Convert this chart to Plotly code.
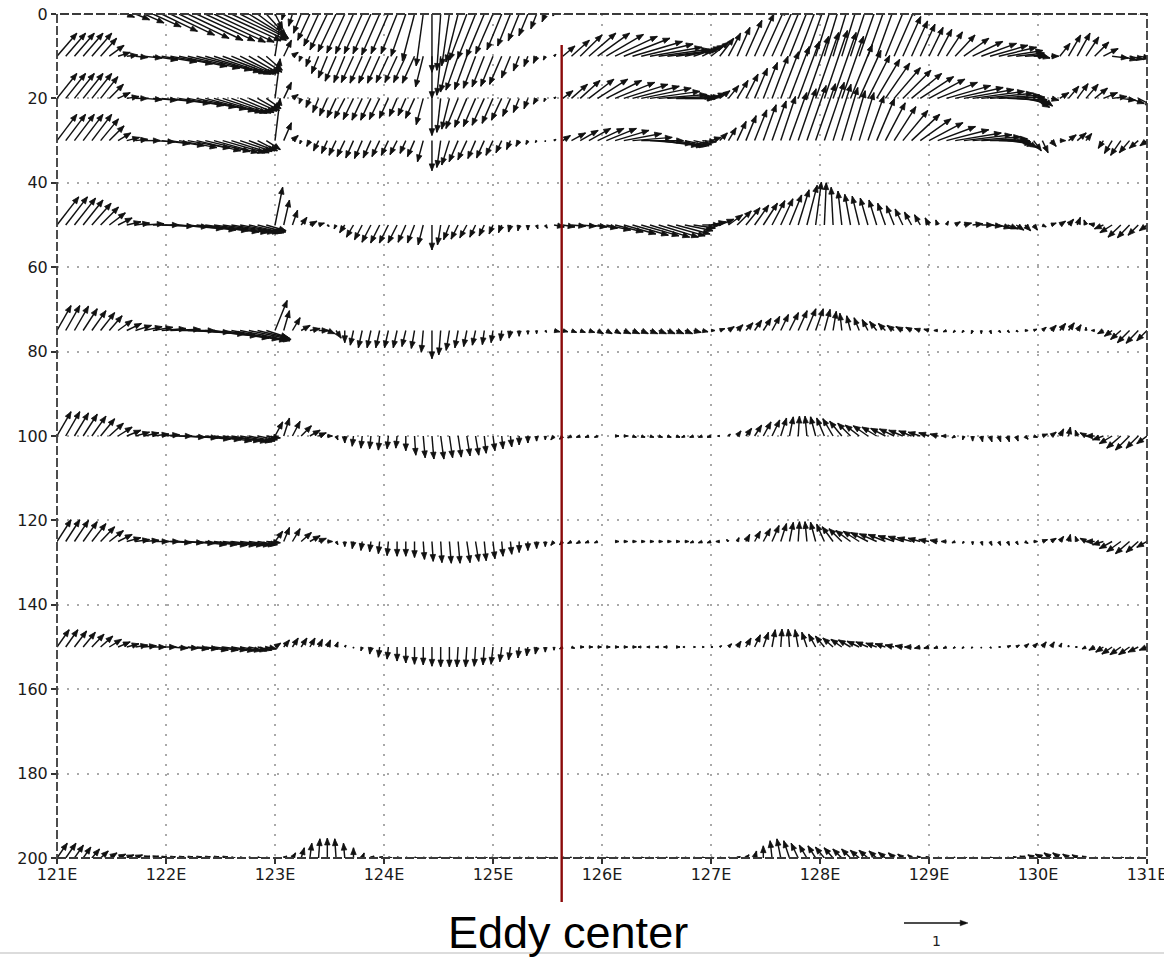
import numpy as np
import plotly.graph_objects as go

# ---------------- data ----------------
LON = np.round(np.linspace(121.0, 131.0, 126), 2)          # grid longitudes (0.08 deg)
LEVELS = [0, 10, 20, 30, 50, 75, 100, 125, 150, 200]       # depth levels (m)
X_TICKS = [121, 122, 123, 124, 125, 126, 127, 128, 129, 130, 131]
X_TICKTEXT = ["121E", "122E", "123E", "124E", "125E", "126E", "127E", "128E", "129E", "130E", "131E"]
Y_TICKS = [0, 20, 40, 60, 80, 100, 120, 140, 160, 180, 200]
EDDY_CENTER_LON = 125.63
REF_VECTOR = 1

U_0 = [0.31,0.31,0.31,0.31,0.31,0.28,0.23,0.19,
       0.12,0.22,0.31,0.44,0.56,0.69,0.78,0.86,0.91,0.94,0.94,0.91,0.86,0.75,0.62,0.47,0.31,0.12,
       -0.03,-0.06,-0.12,-0.19,-0.23,-0.27,-0.28,-0.28,-0.28,-0.28,-0.28,-0.28,-0.27,-0.25,-0.23,-0.19,-0.11,0,-0.06,-0.12,-0.19,-0.27,-0.28,-0.28,-0.27,-0.23,-0.2,-0.17,-0.14,-0.09,-0.05,-0.02,
       0.16,0.23,0.31,0.39,0.47,0.55,0.62,0.7,0.75,0.78,0.78,0.75,0.7,0.62,0.55,0.47,0.39,0.34,
       0.31,0.31,0.34,0.38,0.39,0.41,0.41,0.41,0.41,0.41,0.41,0.41,0.41,0.41,0.41,0.39,0.39,0.38,0.38,0.36,0.34,0.33,0.31,0.31,0.31,
       0.31,0.34,0.39,0.47,0.55,0.59,0.59,0.55,0.47,0.39,0.31,0.23,
       0.19,0.19,0.22,0.23,0.23,0.23,0.23,0.23,0.23,0.23,0.22,0.19,0.16]
W_0 = [0.34,0.34,0.34,0.34,0.34,0.28,0.19,0.09,
       -0.05,-0.09,-0.14,-0.2,-0.27,-0.33,-0.38,-0.41,-0.42,-0.44,-0.44,-0.42,-0.41,-0.39,-0.38,-0.36,-0.34,-0.23,
       -0.09,-0.19,-0.3,-0.41,-0.5,-0.56,-0.59,-0.61,-0.62,-0.62,-0.62,-0.64,-0.62,-0.62,-0.66,-0.73,-0.81,-0.91,-0.88,-0.81,-0.75,-0.72,-0.7,-0.67,-0.62,-0.56,-0.5,-0.42,-0.34,-0.23,-0.12,-0.03,
       0.08,0.19,0.28,0.34,0.38,0.39,0.38,0.34,0.31,0.28,0.25,0.22,0.19,0.17,0.17,0.19,0.22,0.25,
       0.31,0.41,0.5,0.59,0.69,0.78,0.88,0.97,1.06,1.12,1.19,1.25,1.28,1.28,1.25,1.19,1.12,1.06,0.97,0.88,0.78,0.7,0.62,0.56,0.5,
       0.47,0.44,0.41,0.38,0.34,0.31,0.28,0.25,0.22,0.19,0.16,0.16,
       0.19,0.28,0.41,0.5,0.53,0.5,0.41,0.31,0.22,0.16,0.12,0.12,0.12]

U_10 = [0.31,0.31,0.31,0.31,0.31,0.25,0.23,0.19,0.17,
        0.19,0.28,0.39,0.55,0.66,0.75,0.81,0.86,0.86,0.81,0.75,0.66,0.56,0.47,0.38,0.25,
        0.08,0.12,0.09,
        -0.03,-0.06,-0.11,-0.14,-0.17,-0.17,-0.19,-0.19,-0.19,-0.19,-0.19,-0.19,-0.19,-0.19,-0.12,0,-0.06,-0.14,-0.19,-0.19,-0.19,-0.19,-0.19,-0.19,-0.14,-0.09,-0.06,-0.05,-0.03,
        0.03,0.19,0.28,0.34,0.42,0.5,0.58,0.66,0.72,0.78,0.81,0.81,0.78,0.7,0.62,0.52,0.42,0.34,0.28,0.22,0.19,0.2,0.25,0.3,
        0.34,0.38,0.39,0.41,0.41,0.41,0.39,0.38,0.38,0.38,0.38,0.38,0.36,0.34,0.34,0.33,0.28,0.25,0.23,0.22,0.22,0.25,0.31,0.39,0.47,0.55,0.59,0.59,0.55,0.44,0.31,0.19,0.12,0.12,0.16,0.19,0.2,0.2,0.22,0.23,0.25,0.25,0.22,0.19,0.16]
W_10 = [0.36,0.36,0.36,0.36,0.36,0.28,0.17,0.06,0.02,
        -0.02,-0.03,-0.06,-0.09,-0.12,-0.16,-0.19,-0.22,-0.25,-0.27,-0.28,-0.28,-0.28,-0.27,-0.25,-0.22,
        0.52,0.25,0.06,
        -0.08,-0.16,-0.27,-0.34,-0.39,-0.41,-0.41,-0.42,-0.42,-0.42,-0.41,-0.41,-0.41,-0.42,-0.48,-0.66,-0.61,-0.56,-0.53,-0.52,-0.5,-0.48,-0.47,-0.44,-0.34,-0.23,-0.16,-0.11,-0.06,
        0.03,0.16,0.25,0.33,0.36,0.36,0.34,0.31,0.28,0.23,0.19,0.14,0.11,0.09,0.09,0.11,0.14,0.17,0.22,0.28,0.36,0.45,0.56,0.66,
        0.75,0.84,0.94,1.03,1.09,1.16,1.22,1.25,1.25,1.22,1.16,1.09,1.02,0.94,0.84,0.75,0.62,0.55,0.5,0.45,0.42,0.38,0.33,0.28,0.23,0.2,0.17,0.14,0.09,0.05,0.02,0,-0.03,0,0.2,0.33,0.36,0.3,0.22,0.12,-0.03,-0.06,-0.05,-0.03,0]

U_20 = [0.31,0.31,0.31,0.31,0.31,0.27,0.22,0.19,0.19,
        0.19,0.28,0.38,0.5,0.62,0.7,0.75,0.78,0.78,0.75,0.69,0.62,0.53,0.44,0.34,0.23,
        0.08,0.12,0.09,
        -0.03,-0.06,-0.09,-0.12,-0.14,-0.16,-0.16,-0.16,-0.16,-0.16,-0.14,-0.12,-0.12,-0.14,-0.11,0,-0.06,-0.12,-0.19,-0.19,-0.19,-0.19,-0.17,-0.16,-0.12,-0.09,-0.06,-0.05,-0.02,
        0.03,0.16,0.25,0.31,0.39,0.47,0.55,0.62,0.69,0.73,0.78,0.78,0.75,0.69,0.59,0.47,0.38,0.28,0.22,0.16,0.16,0.17,0.19,0.2,
        0.22,0.25,0.28,0.31,0.33,0.34,0.36,0.36,0.36,0.34,0.34,0.34,0.34,0.36,0.38,0.41,0.44,0.47,0.52,0.56,0.62,0.69,0.75,0.78,0.81,0.81,0.78,0.72,0.62,0.5,0.38,0.25,0.16,0.12,0.14,0.16,0.17,0.19,0.2,0.22,0.23,0.23,0.23,0.22,0.19]
W_20 = [0.39,0.39,0.39,0.39,0.39,0.34,0.22,0.09,0.03,
        0,-0.02,-0.03,-0.05,-0.08,-0.11,-0.14,-0.17,-0.2,-0.22,-0.23,-0.23,-0.22,-0.2,-0.19,-0.16,
        0.62,0.25,0.06,
        -0.08,-0.14,-0.22,-0.27,-0.3,-0.31,-0.33,-0.34,-0.34,-0.33,-0.31,-0.28,-0.27,-0.31,-0.41,-0.58,-0.53,-0.48,-0.47,-0.45,-0.44,-0.42,-0.39,-0.34,-0.28,-0.22,-0.16,-0.09,-0.05,
        0.02,0.12,0.22,0.28,0.3,0.3,0.28,0.25,0.22,0.19,0.16,0.11,0.06,0.03,0,0,0.02,0.03,0.08,0.12,0.2,0.28,0.38,0.47,
        0.56,0.66,0.73,0.81,0.89,0.97,1.03,1.06,1.03,0.97,0.84,0.75,0.67,0.61,0.55,0.48,0.44,0.39,0.34,0.3,0.25,0.2,0.17,0.14,0.11,0.08,0.05,0.02,-0.02,-0.05,-0.09,-0.14,-0.12,-0.03,0.09,0.19,0.23,0.22,0.16,0.09,0.03,-0.03,-0.08,-0.11,-0.12]

U_30 = [0.31,0.31,0.31,0.31,0.31,0.28,0.23,0.2,0.2,
        0.19,0.25,0.34,0.44,0.53,0.59,0.66,0.69,0.7,0.69,0.66,0.59,0.5,0.41,0.31,0.22,
        0.08,0.12,0.09,
        -0.02,-0.05,-0.08,-0.09,-0.11,-0.12,-0.12,-0.12,-0.12,-0.12,-0.11,-0.11,-0.09,-0.11,-0.09,0,-0.06,-0.12,-0.14,-0.14,-0.12,-0.12,-0.11,-0.09,-0.06,-0.05,-0.03,-0.02,0,
        0.03,0.12,0.22,0.28,0.34,0.41,0.47,0.53,0.59,0.62,0.66,0.66,0.62,0.56,0.47,0.38,0.28,0.22,0.16,0.12,0.12,0.14,0.16,0.19,
        0.2,0.22,0.23,0.27,0.28,0.3,0.31,0.31,0.28,0.25,0.23,0.23,0.25,0.28,0.31,0.34,0.39,0.44,0.48,0.53,0.59,0.66,0.72,0.75,0.75,0.72,0.62,0.5,0.38,0.28,0.19,0.12,0.09,0.08,0.09,0.12,0.14,0.09,0,-0.08,-0.12,-0.16,-0.16,-0.14,-0.11]
W_30 = [0.41,0.41,0.41,0.41,0.41,0.34,0.23,0.12,0.05,
        0.02,0,-0.02,-0.05,-0.08,-0.11,-0.12,-0.16,-0.17,-0.19,-0.19,-0.19,-0.17,-0.16,-0.16,-0.14,
        0.66,0.28,0.08,
        -0.05,-0.09,-0.16,-0.2,-0.23,-0.25,-0.27,-0.28,-0.27,-0.25,-0.23,-0.22,-0.2,-0.25,-0.33,-0.47,-0.42,-0.38,-0.33,-0.3,-0.28,-0.27,-0.23,-0.19,-0.14,-0.09,-0.06,-0.03,-0.02,
        0.02,0.08,0.12,0.16,0.19,0.19,0.19,0.16,0.11,0.05,0,-0.05,-0.08,-0.09,-0.09,-0.08,-0.06,-0.02,0.05,0.12,0.2,0.3,0.39,0.48,
        0.56,0.62,0.69,0.75,0.81,0.86,0.89,0.91,0.88,0.83,0.78,0.75,0.7,0.66,0.59,0.53,0.47,0.41,0.34,0.28,0.22,0.17,0.12,0.09,0.06,0.03,0,-0.02,-0.05,-0.08,-0.11,-0.16,-0.19,-0.09,0,0.09,0.12,0.11,0,-0.12,-0.2,-0.23,-0.19,-0.12,-0.08]

U_50 = [0.34,0.34,0.33,0.31,0.3,0.28,0.25,0.22,0.22,
        0.22,0.31,0.41,0.5,0.59,0.69,0.75,0.81,0.84,0.84,0.81,0.75,0.66,0.55,0.44,0.31,
        0.12,0.09,0.08,0.09,0.11,0.09,0.03,-0.03,-0.08,-0.11,-0.12,-0.14,-0.14,-0.14,-0.14,-0.12,-0.11,-0.08,0,-0.05,-0.09,-0.11,-0.11,-0.09,-0.08,-0.06,-0.05,-0.03,-0.02,0,0.02,0.03,
        0.16,0.19,0.22,0.25,0.28,0.31,0.38,0.44,0.5,0.56,0.59,0.62,0.62,0.59,0.53,0.44,0.34,0.28,0.23,0.22,0.22,0.22,0.22,0.22,
        0.22,0.2,0.19,0.19,0.17,0.16,0.09,0.03,-0.03,-0.06,-0.09,-0.11,-0.12,-0.12,-0.12,-0.12,-0.12,-0.11,-0.09,-0.06,-0.03,0.03,0.08,0.12,0.16,0.19,0.19,0.19,0.16,0.12,0.09,0.06,0.06,0.08,0.09,0.08,0.05,-0.03,-0.09,-0.14,-0.19,-0.2,-0.19,-0.16,-0.12]
W_50 = [0.44,0.44,0.42,0.39,0.34,0.28,0.19,0.11,0.05,
        0.03,0.02,0,-0.02,-0.03,-0.06,-0.08,-0.09,-0.11,-0.12,-0.12,-0.12,-0.12,-0.12,-0.11,-0.09,
        0.59,0.39,0.23,0.12,0.06,0.03,-0.02,-0.06,-0.12,-0.19,-0.23,-0.27,-0.28,-0.28,-0.28,-0.27,-0.28,-0.31,-0.39,-0.31,-0.23,-0.22,-0.2,-0.19,-0.17,-0.14,-0.12,-0.11,-0.09,-0.08,-0.06,-0.05,
        -0.03,-0.03,-0.02,-0.02,-0.03,-0.05,-0.08,-0.11,-0.14,-0.16,-0.17,-0.19,-0.19,-0.17,-0.14,-0.09,-0.05,0,0.05,0.09,0.16,0.22,0.27,0.31,
        0.34,0.38,0.41,0.47,0.55,0.62,0.67,0.66,0.59,0.53,0.48,0.45,0.42,0.39,0.34,0.3,0.25,0.2,0.16,0.11,0.08,0.06,0.05,0.03,0.02,0,-0.02,-0.05,-0.06,-0.08,-0.09,-0.08,-0.03,0.03,0.06,0.09,0.12,0.08,0.02,-0.06,-0.12,-0.19,-0.2,-0.16,-0.09]

U_75 = [0.22,0.22,0.22,0.22,0.22,0.22,0.2,0.22,0.23,0.25,0.28,0.31,
        0.38,0.47,0.56,0.66,0.75,0.81,0.86,0.88,0.86,0.78,0.66,0.5,0.34,
        0.19,0.09,0.12,0.14,0.16,0.16,0.12,0.08,0,-0.05,-0.06,-0.06,-0.06,-0.06,-0.06,-0.06,-0.05,-0.03,0,-0.03,-0.05,-0.05,-0.05,-0.05,-0.03,-0.03,-0.02,-0.02,0,0,0,0.02,
        0.09,0.08,0.08,0.08,0.09,0.09,0.09,0.09,0.11,0.11,0.11,0.12,0.12,0.12,0.12,0.12,0.12,0.09,0.06,0.08,0.09,0.09,0.11,0.11,
        0.12,0.12,0.12,0.14,0.14,0.14,0.12,0.09,0.05,-0.03,-0.06,-0.08,-0.09,-0.11,-0.11,-0.11,-0.11,-0.09,-0.09,-0.08,-0.06,-0.05,-0.03,-0.03,-0.02,0,0.02,0.03,0.03,0.03,0.05,0.05,0.06,0.08,0.09,0.09,0.06,0,-0.05,-0.09,-0.12,-0.16,-0.19,-0.19,-0.16]
W_75 = [0.39,0.39,0.38,0.34,0.31,0.28,0.23,0.16,0.11,0.08,0.06,0.05,
        0.03,0.02,0,-0.03,-0.06,-0.09,-0.12,-0.14,-0.16,-0.16,-0.14,-0.12,-0.11,
        0.47,0.31,0.2,0.08,0.03,0,-0.05,-0.12,-0.19,-0.23,-0.27,-0.27,-0.27,-0.27,-0.27,-0.25,-0.28,-0.34,-0.44,-0.38,-0.31,-0.27,-0.25,-0.23,-0.22,-0.19,-0.16,-0.12,-0.09,-0.06,-0.05,-0.03,
        -0.02,-0.02,-0.03,-0.03,-0.03,-0.05,-0.05,-0.05,-0.05,-0.05,-0.05,-0.05,-0.05,-0.05,-0.05,-0.05,-0.03,-0.02,0,0.03,0.06,0.09,0.12,0.16,
        0.19,0.22,0.25,0.28,0.31,0.34,0.34,0.33,0.3,0.27,0.23,0.2,0.17,0.14,0.11,0.08,0.06,0.05,0.03,0.02,0,-0.02,-0.03,-0.03,-0.05,-0.05,-0.05,-0.03,-0.03,-0.02,0,0.02,0.05,0.08,0.11,0.12,0.09,0.05,0,-0.05,-0.09,-0.14,-0.19,-0.2,-0.16]

U_100 = [0.22,0.22,0.22,0.22,0.22,0.22,0.22,0.22,0.22,0.22,0.23,0.25,
         0.28,0.34,0.41,0.47,0.53,0.56,0.59,0.59,0.56,0.5,0.41,0.31,0.22,
         0.12,0.09,0.12,0.16,0.16,0.12,0.08,0.03,0,-0.02,-0.02,-0.02,-0.02,-0.02,-0.02,0,0.02,0.03,0.03,0.05,0.05,0.05,0.05,0.05,0.03,0.03,0.02,0.02,0,0,0,0,
         -0.05,-0.05,-0.06,-0.06,-0.06,-0.05,0,0.06,0.06,0.06,0.06,0.06,0.06,0.06,0.06,-0.05,-0.06,-0.06,-0.06,-0.03,0.03,0.06,0.09,0.11,
         0.12,0.12,0.09,0.06,0.02,-0.03,-0.08,-0.12,-0.16,-0.19,-0.2,-0.22,-0.23,-0.23,-0.23,-0.23,-0.22,-0.2,-0.19,-0.16,-0.12,-0.08,-0.05,-0.02,0,0.02,0.03,0.03,0.03,0.03,0.05,0.06,0.08,0.08,0.06,0.03,-0.03,-0.09,-0.14,-0.17,-0.2,-0.22,-0.22,-0.19,-0.16]
W_100 = [0.38,0.38,0.36,0.34,0.31,0.27,0.2,0.14,0.09,0.06,0.05,0.03,
         0.02,0,-0.02,-0.03,-0.05,-0.06,-0.08,-0.08,-0.09,-0.09,-0.08,-0.06,-0.03,
         0.22,0.28,0.23,0.16,0.09,0.05,0,-0.06,-0.11,-0.16,-0.19,-0.2,-0.22,-0.2,-0.19,-0.23,-0.3,-0.34,-0.36,-0.36,-0.34,-0.33,-0.31,-0.3,-0.27,-0.23,-0.2,-0.17,-0.14,-0.11,-0.08,-0.06,
         -0.06,-0.05,-0.03,-0.02,-0.02,-0.02,0,0,0,-0.02,-0.02,-0.02,-0.02,-0.02,-0.02,-0.02,-0.02,-0.02,-0.02,0,0.03,0.08,0.12,0.17,
         0.22,0.25,0.28,0.3,0.31,0.31,0.3,0.28,0.27,0.23,0.2,0.17,0.16,0.14,0.12,0.11,0.09,0.08,0.06,0.05,0.03,0,-0.03,-0.06,-0.08,-0.09,-0.09,-0.09,-0.09,-0.08,-0.05,-0.02,0.03,0.06,0.11,0.14,0.09,0.05,0,-0.06,-0.12,-0.19,-0.22,-0.19,-0.12]

U_125 = [0.22,0.22,0.22,0.22,0.22,0.22,0.22,0.22,0.22,0.22,0.23,0.25,
         0.28,0.33,0.38,0.42,0.47,0.5,0.52,0.52,0.5,0.47,0.41,0.31,0.22,
         0.12,0.09,0.12,0.16,0.16,0.12,0.08,0.03,0,-0.02,-0.02,-0.02,-0.02,-0.02,0,0,0,0.02,0.02,0.02,0.03,0.03,0.05,0.05,0.03,0.03,0.02,0.02,0,0,0,0,
         -0.05,-0.05,-0.06,-0.06,-0.06,-0.05,0,0.06,0.06,0.06,0.06,0.06,0.06,0.06,0.06,0.06,-0.05,-0.06,-0.06,-0.06,-0.03,0.03,0.06,0.09,
         0.11,0.11,0.09,0.06,0.02,-0.03,-0.08,-0.12,-0.17,-0.2,-0.23,-0.25,-0.27,-0.27,-0.27,-0.25,-0.23,-0.22,-0.19,-0.16,-0.12,-0.08,-0.05,-0.02,0,0.02,0.03,0.03,0.03,0.03,0.05,0.06,0.08,0.08,0.06,0.03,-0.03,-0.09,-0.14,-0.17,-0.2,-0.22,-0.22,-0.19,-0.16]
W_125 = [0.34,0.34,0.33,0.31,0.28,0.23,0.17,0.11,0.06,0.03,0.02,0,
         0,-0.02,-0.02,-0.03,-0.05,-0.05,-0.06,-0.06,-0.06,-0.06,-0.06,-0.05,-0.02,
         0.16,0.22,0.2,0.14,0.09,0.05,0,-0.05,-0.08,-0.11,-0.14,-0.16,-0.19,-0.22,-0.23,-0.23,-0.25,-0.28,-0.31,-0.33,-0.34,-0.34,-0.33,-0.31,-0.3,-0.27,-0.23,-0.2,-0.17,-0.14,-0.11,-0.08,
         -0.06,-0.05,-0.03,-0.03,-0.02,-0.02,0,0,0,0,0,0,0,0,0,0,-0.02,-0.02,-0.02,0,0.03,0.06,0.11,0.16,
         0.2,0.25,0.28,0.3,0.31,0.31,0.3,0.27,0.23,0.2,0.17,0.16,0.14,0.12,0.11,0.09,0.08,0.06,0.05,0.03,0.02,0,-0.02,-0.03,-0.05,-0.06,-0.06,-0.06,-0.06,-0.05,-0.03,0,0.03,0.05,0.08,0.11,0.08,0.05,0,-0.05,-0.11,-0.16,-0.19,-0.17,-0.09]

U_150 = [0.19,0.19,0.19,0.19,0.19,0.19,0.19,0.19,0.19,0.19,0.19,0.2,
         0.23,0.27,0.3,0.33,0.34,0.36,0.38,0.38,0.36,0.33,0.28,0.22,0.16,
         0.09,0.09,0.09,0.09,0.08,0.06,0.05,0.03,0.02,0,-0.02,-0.02,-0.02,-0.02,0,0,0,0,0,0,0,-0.02,-0.02,-0.02,-0.02,-0.03,-0.03,-0.03,-0.02,-0.02,-0.02,0,
         0,-0.05,0.05,0.06,0.06,0.06,0.06,0.06,0.06,0.06,-0.05,-0.05,-0.05,-0.06,0.06,-0.03,0.03,0.03,0.03,0.03,0.05,0.06,0.08,0.09,
         0.08,0.05,0.02,-0.02,-0.05,-0.08,-0.11,-0.14,-0.16,-0.17,-0.19,-0.19,-0.19,-0.17,-0.16,-0.14,-0.12,-0.11,-0.09,-0.08,-0.06,-0.05,-0.03,-0.03,-0.02,0,0.02,0.03,0.05,0.05,0.06,0.06,0.06,0.05,0.03,0,-0.03,-0.06,-0.09,-0.12,-0.16,-0.17,-0.17,-0.16,-0.12]
W_150 = [0.27,0.27,0.25,0.23,0.2,0.17,0.12,0.08,0.05,0.03,0.02,0,
         0,-0.02,-0.02,-0.03,-0.03,-0.05,-0.05,-0.05,-0.06,-0.06,-0.06,-0.05,-0.03,
         0.06,0.11,0.14,0.14,0.14,0.12,0.11,0.08,0.03,-0.02,-0.06,-0.11,-0.16,-0.19,-0.22,-0.25,-0.27,-0.28,-0.3,-0.31,-0.31,-0.31,-0.31,-0.3,-0.28,-0.27,-0.23,-0.2,-0.17,-0.14,-0.11,-0.08,
         -0.05,-0.03,-0.02,0,0,0,0,0,0,0,0,0,0,0,0,0,0,0,0,0.02,0.05,0.09,0.14,0.19,
         0.23,0.27,0.28,0.28,0.27,0.23,0.2,0.17,0.14,0.12,0.11,0.09,0.08,0.06,0.05,0.03,0.02,0,-0.02,-0.02,-0.02,-0.02,-0.02,-0.02,-0.02,-0.02,-0.02,0,0.02,0.03,0.05,0.06,0.08,0.08,0.06,0.03,0,-0.03,-0.05,-0.08,-0.11,-0.12,-0.12,-0.08,-0.05]

U_200 = [0.16,0.16,0.14,0.12,0.12,0.12,0.12,0.12,0.11,0.11,0.09,0.09,0.08,0.08,0.08,0.08,0.08,0.08,0.08,0.08,0.06,0.06,0.06,0.06,0.05,
         0.03,0.05,0.05,0.05,0.03,0.02,0,-0.02,-0.02,0,0.03,0.05,0.05,
         0.06,0.06,0.05,0.05,0.05,-0.05,-0.05,0.05,0.05,0.05,0.05,0.05,-0.05,-0.05,-0.05,0.05,0.05,0.05,0.05,0.05,0.05,-0.05,0.05,0.05,0.05,0.05,0.05,0.05,0.05,0.05,-0.05,-0.05,-0.05,0.05,0.05,0.05,0.05,0.05,0.05,0.05,
         0.05,0.05,0.03,0,-0.03,-0.06,-0.09,-0.11,-0.12,-0.12,-0.14,-0.14,-0.14,-0.14,-0.14,-0.14,-0.12,-0.11,-0.09,-0.08,-0.06,-0.05,-0.05,
         0.05,0.05,-0.05,0.05,0.05,0.05,0.05,0.05,0.05,-0.05,-0.08,-0.09,-0.11,-0.11,-0.11,-0.09,-0.08,-0.06,0.05,0.05,0.05,0.05,0.05,0.05,0.05]
W_200 = [0.23,0.23,0.2,0.17,0.14,0.11,0.08,0.06,0.05,0.05,0.03,0.03,0.02,0.02,0.02,0.02,0.02,0.02,0.02,0.02,0,0,0,0,0,
         0,0.03,0.08,0.16,0.23,0.3,0.31,0.3,0.23,0.16,0.08,0.03,0.02,
         0,0,0,0,0,0,0,0,0,0, 0,0,0,0,0,0,0,0,0,0, 0,0,0,0,0,0,0,0,0,0, 0,0,0,0,0,0,0,0,0,0,
         0.02,0.05,0.11,0.19,0.27,0.3,0.27,0.23,0.2,0.19,0.17,0.16,0.14,0.14,0.12,0.12,0.11,0.09,0.08,0.06,0.05,0.03,0.02,
         0,0,0,0,0,0,0,0,0,0.02,0.03,0.05,0.06,0.08,0.08,0.06,0.05,0.03,0,0,0,0,0,0,0]

U_BY_LEVEL = [U_0, U_10, U_20, U_30, U_50, U_75, U_100, U_125, U_150, U_200]
W_BY_LEVEL = [W_0, W_10, W_20, W_30, W_50, W_75, W_100, W_125, W_150, W_200]

# ---------------- geometry ----------------
FIG_W, FIG_H = 1164, 958
M_L, M_R, M_T, M_B = 57, 17, 14, 100
PLOT_W = FIG_W - M_L - M_R
PLOT_H = FIG_H - M_T - M_B
X_RANGE = [121, 131]
Y_RANGE = [200, 0]
PX_PER_LON = PLOT_W / (X_RANGE[1] - X_RANGE[0])
PX_PER_DEP = PLOT_H / (Y_RANGE[0] - Y_RANGE[1])
VEC_PX = 64.0          # pixels for a vector of magnitude 1
HEAD_LEN = 6.8
HEAD_HALF = 0.4
INK = "#111111"

def px_to_paper_x(px):
    return (px - M_L) / PLOT_W

def px_to_paper_y(py):
    return (M_T + PLOT_H - py) / PLOT_H

shaft_x, shaft_y, head_x, head_y = [], [], [], []
for depth, U, W in zip(LEVELS, U_BY_LEVEL, W_BY_LEVEL):
    assert len(U) == len(LON) and len(W) == len(LON), (depth, len(U), len(W))
    for lon, u, w in zip(LON, U, W):
        ex = u * VEC_PX
        ey = -w * VEC_PX
        L = (ex * ex + ey * ey) ** 0.5
        if L < 0.3:
            continue
        tx = lon + ex / PX_PER_LON
        ty = depth + ey / PX_PER_DEP
        shaft_x += [lon, tx, None]
        shaft_y += [depth, ty, None]
        h = min(HEAD_LEN, 0.9 * L)
        hw = HEAD_HALF * h
        ux, uy = ex / L, ey / L
        bx, by = ex - h * ux, ey - h * uy
        p1x, p1y = bx - hw * uy, by + hw * ux
        p2x, p2y = bx + hw * uy, by - hw * ux
        head_x += [tx, lon + p1x / PX_PER_LON, lon + p2x / PX_PER_LON, tx, None]
        head_y += [ty, depth + p1y / PX_PER_DEP, depth + p2y / PX_PER_DEP, ty, None]

fig = go.Figure()
fig.add_trace(go.Scatter(x=shaft_x, y=shaft_y, mode="lines",
                         line=dict(color=INK, width=1.45), hoverinfo="skip", showlegend=False))
fig.add_trace(go.Scatter(x=head_x, y=head_y, mode="lines", fill="toself", fillcolor=INK,
                         line=dict(color=INK, width=0.8), hoverinfo="skip", showlegend=False))

axis_font = dict(family="DejaVu Sans, Liberation Sans, sans-serif", size=16, color="#1a1a1a")
fig.update_xaxes(range=X_RANGE, tickvals=X_TICKS, ticktext=X_TICKTEXT, ticks="outside",
                 ticklen=5, tickwidth=1.5, tickcolor="#333333", tickfont=axis_font,
                 ticklabeloverflow="allow", ticklabelstandoff=-3,
                 showgrid=True, gridcolor="#a9a9a9", gridwidth=1.5, griddash="2px,8px",
                 zeroline=False, showline=False)
fig.update_yaxes(range=Y_RANGE, tickvals=Y_TICKS, ticks="outside",
                 ticklen=5, tickwidth=1.5, tickcolor="#333333", tickfont=axis_font,
                 ticklabeloverflow="allow",
                 showgrid=True, gridcolor="#a9a9a9", gridwidth=1.5, griddash="2px,8px",
                 zeroline=False, showline=False)

shapes = [
    dict(type="rect", xref="paper", yref="paper", x0=0, x1=1, y0=0, y1=1,
         line=dict(color="#3a3a3a", width=1.8, dash="9px,3px"), layer="above"),
    dict(type="line", xref="x", yref="paper", x0=EDDY_CENTER_LON, x1=EDDY_CENTER_LON,
         y0=px_to_paper_y(902), y1=px_to_paper_y(45),
         line=dict(color="#8b0a0a", width=2.4), layer="above"),
    dict(type="line", xref="paper", yref="paper", x0=px_to_paper_x(0), x1=px_to_paper_x(FIG_W),
         y0=px_to_paper_y(953), y1=px_to_paper_y(953),
         line=dict(color="#dcdcdc", width=2)),
]

# reference vector (magnitude REF_VECTOR)
ref_x0, ref_y = 904, 923
ref_x1 = ref_x0 + REF_VECTOR * VEC_PX
shapes.append(dict(type="line", xref="paper", yref="paper",
                   x0=px_to_paper_x(ref_x0), x1=px_to_paper_x(ref_x1 - 2),
                   y0=px_to_paper_y(ref_y), y1=px_to_paper_y(ref_y),
                   line=dict(color=INK, width=1.4)))
hp = [(ref_x1, ref_y), (ref_x1 - HEAD_LEN - 1, ref_y - 2.8), (ref_x1 - HEAD_LEN - 1, ref_y + 2.8)]
path = "M {} {} L {} {} L {} {} Z".format(*[v for p in hp for v in (px_to_paper_x(p[0]), px_to_paper_y(p[1]))])
shapes.append(dict(type="path", xref="paper", yref="paper", path=path,
                   fillcolor=INK, line=dict(color=INK, width=0.5)))

annotations = [
    dict(text="Eddy center", xref="paper", yref="paper", x=px_to_paper_x(568), y=px_to_paper_y(932),
         xanchor="center", yanchor="middle", showarrow=False,
         font=dict(family="Liberation Sans, Arial, sans-serif", size=45, color="#000000")),
    dict(text=str(REF_VECTOR), xref="paper", yref="paper", x=px_to_paper_x(936), y=px_to_paper_y(941),
         xanchor="center", yanchor="middle", showarrow=False,
         font=dict(family="DejaVu Sans, Liberation Sans, sans-serif", size=14, color="#222222")),
]

fig.update_layout(width=FIG_W, height=FIG_H,
                  margin=dict(l=M_L, r=M_R, t=M_T, b=M_B, pad=0, autoexpand=False),
                  paper_bgcolor="white", plot_bgcolor="white",
                  shapes=shapes, annotations=annotations, showlegend=False)

fig.write_html("out.html", config={"displayModeBar": False})
